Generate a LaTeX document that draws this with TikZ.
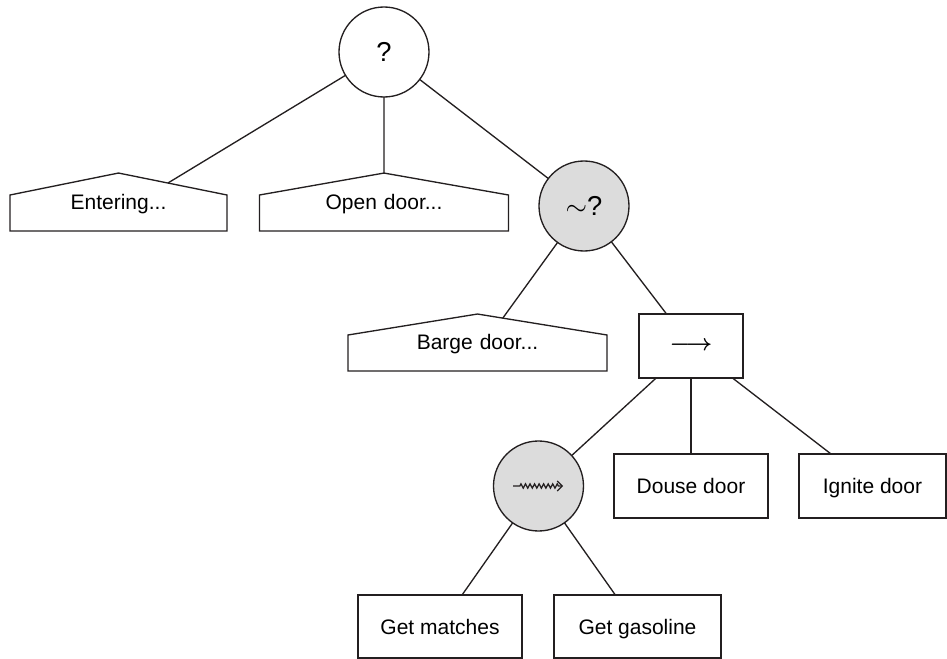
\documentclass[tikz,border=0pt]{standalone}
\usepackage{fontspec}
\setmainfont{Liberation Sans}
\usetikzlibrary{shapes.symbols,decorations.pathmorphing,arrows.meta}
\newlength\pxu \setlength\pxu{0.75pt}
\definecolor{fillgray}{RGB}{220,220,220}
\definecolor{ink}{RGB}{35,31,32}
\begin{document}
\begin{tikzpicture}[x=0.75pt,y=-0.75pt,line width=1pt,
  lbl/.style={font=\fontsize{15.75}{18}\selectfont},
  tbox/.style={draw=ink,rectangle,inner sep=0pt,outer sep=0pt,lbl,
    text height=15.3\pxu,text depth=0pt},
  seqbox/.style={draw=ink,rectangle,inner sep=0pt,outer sep=0pt,
    font=\fontsize{17.8}{20}\selectfont\mathversion{bold}},
  selnode/.style={draw=ink,circle,minimum size=90\pxu,inner sep=0pt,outer sep=0pt,
    font=\fontsize{20.5}{24}\selectfont},
  graynode/.style={selnode,fill=fillgray},
  house/.style={draw=ink,signal,signal to=north,inner xsep=0pt,inner ysep=0pt,
    outer sep=0pt,text height=15\pxu,text depth=21\pxu,align=center,lbl},
  edge/.style={draw=ink}]
\useasboundingbox (0,0) rectangle (947,659);

\node[selnode] (root) at (384,52) {?};
\node[house,text width=217\pxu,signal pointer angle=157.1] (ent) at (118.5,213) {Entering...};
\node[house,text width=249\pxu,signal pointer angle=160] (opn) at (384,213) {Open door...};
\node[graynode] (inv) at (584,206) {$\sim$?};
\node[house,text width=259\pxu,signal pointer angle=161.6] (barge) at (477.5,353) {Barge door...};
\node[seqbox,minimum width=104\pxu,minimum height=64\pxu] (seq) at (691,346) {$\longrightarrow$};
\node[graynode] (par) at (538.5,486) {};
\node[tbox,minimum width=154\pxu,minimum height=64\pxu] (douse) at (691,486) {Douse door};
\node[tbox,minimum width=147\pxu,minimum height=64\pxu] (ignite) at (872.5,486) {Ignite door};
\node[tbox,minimum width=164\pxu,minimum height=63\pxu] (match) at (440,626.5) {Get matches};
\node[tbox,minimum width=167\pxu,minimum height=63\pxu] (gas) at (637.5,626.5) {Get gasoline};

\draw[edge] (root) -- (ent);
\draw[edge] (root) -- (opn);
\draw[edge] (root) -- (inv);
\draw[edge] (inv) -- (barge);
\draw[edge] (inv) -- (seq);
\draw[edge] (seq) -- (par);
\draw[edge] (seq) -- (douse);
\draw[edge] (seq) -- (ignite);
\draw[edge] (par) -- (match);
\draw[edge] (par) -- (gas);

\draw[ink,line width=0.95pt,decorate,
  decoration={zigzag,amplitude=1.6pt,segment length=3.4pt,pre length=5pt,post length=3pt},
  -{Straight Barb[length=3.8pt,width=7.5pt]}]
  ([xshift=-19pt]par.center) -- ([xshift=18.5pt]par.center);
\end{tikzpicture}
\end{document}
